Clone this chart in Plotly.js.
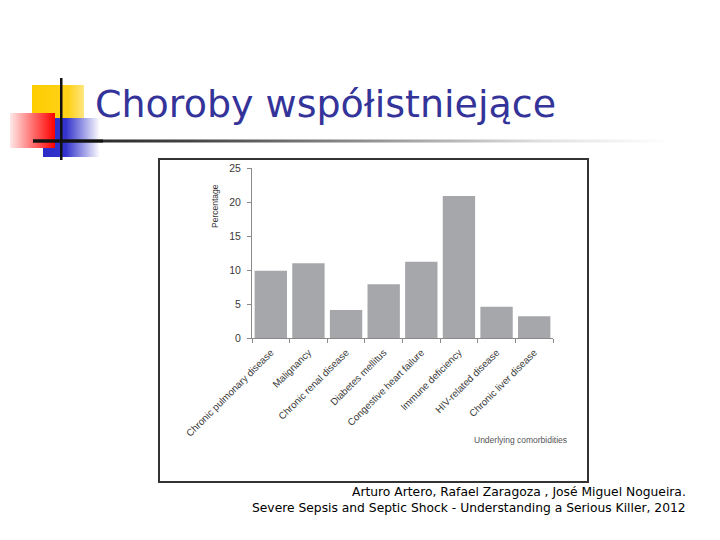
<!DOCTYPE html>
<html>
<head>
<meta charset="utf-8">
<script src="https://cdn.plot.ly/plotly-3.0.1.min.js"></script>
<style>html,body{margin:0;padding:0;background:#fff;}</style>
</head>
<body>
<div id="chart" style="width:720px;height:540px;"></div>
<script>
// ---- data ----
const categories = [
  "Chronic pulmonary disease",
  "Malignancy",
  "Chronic renal disease",
  "Diabetes mellitus",
  "Congestive heart failure",
  "Immune deficiency",
  "HIV-related disease",
  "Chronic liver disease"
];
const percentages = [9.9, 11.0, 4.1, 7.9, 11.2, 20.9, 4.6, 3.2];
const yTickValues = [0, 5, 10, 15, 20, 25];
const slideTitle = "Choroby współistniejące";
const yAxisLabel = "Percentage";
const xAxisLabel = "Underlying comorbidities";
const citationLines = [
  "Arturo Artero, Rafael Zaragoza , José Miguel Nogueira.",
  "Severe Sepsis and Septic Shock - Understanding a Serious Killer, 2012"
];

// ---- layout helpers (pixel -> paper) ----
const W = 720, H = 540;
const PL = 252, PR = 553, PT = 168, PB = 338;
const px = x => (x - PL) / (PR - PL);
const py = y => (PB - y) / (PB - PT);

// decoration svg (slide template logo + gradient rule)
const decoSvg =
  '<svg xmlns="http://www.w3.org/2000/svg" width="720" height="90" viewBox="0 0 720 90">' +
  '<defs>' +
  '<linearGradient id="gy" x1="0" x2="1" y1="0" y2="0"><stop offset="0" stop-color="#FFCC00"/><stop offset="0.7" stop-color="#FFD21A"/><stop offset="1" stop-color="#FFE680"/></linearGradient>' +
  '<linearGradient id="gr" x1="0" x2="1" y1="0" y2="0"><stop offset="0" stop-color="#FFE8E8"/><stop offset="0.5" stop-color="#FF7070"/><stop offset="1" stop-color="#FF0000"/></linearGradient>' +
  '<linearGradient id="gb" x1="0" x2="1" y1="0" y2="0"><stop offset="0" stop-color="#2B2BC8"/><stop offset="0.4" stop-color="#3333CC"/><stop offset="1" stop-color="#FFFFFF"/></linearGradient>' +
  '<linearGradient id="gl" x1="0" x2="1" y1="0" y2="0"><stop offset="0" stop-color="#1a1a1a"/><stop offset="0.25" stop-color="#444444"/><stop offset="0.5" stop-color="#8a8a8a"/><stop offset="0.8" stop-color="#e0e0e0"/><stop offset="1" stop-color="#ffffff"/></linearGradient>' +
  '</defs>' +
  '<rect x="32" y="10" width="52" height="37" fill="url(#gy)"/>' +
  '<rect x="43" y="43" width="57" height="39" fill="url(#gb)"/>' +
  '<rect x="10" y="38" width="45" height="35" fill="url(#gr)"/>' +
  '<rect x="33" y="64.5" width="637" height="3" fill="url(#gl)"/>' +
  '<rect x="33" y="64.5" width="70" height="3" fill="#111"/>' +
  '<rect x="60" y="3" width="2.5" height="82" fill="#111"/>' +
  '</svg>';
const decoUri = 'data:image/svg+xml;charset=utf-8,' + encodeURIComponent(decoSvg);

const trace = {
  type: 'bar',
  x: categories,
  y: percentages,
  marker: { color: '#A5A7AA', line: { width: 0 } },
  hoverinfo: 'x+y'
};

const layout = {
  width: W, height: H,
  margin: { l: PL, r: W - PR, t: PT, b: H - PB, pad: 0 },
  paper_bgcolor: '#ffffff',
  plot_bgcolor: '#ffffff',
  showlegend: false,
  bargap: 0.14,
  title: {
    text: slideTitle,
    xref: 'container', yref: 'container',
    x: 95 / W, xanchor: 'left',
    y: 1 - 104 / H, yanchor: 'middle',
    font: { family: 'DejaVu Sans, Verdana, sans-serif', size: 38, color: '#333399' }
  },
  xaxis: {
    type: 'category',
    tickangle: -45,
    tickson: 'boundaries',
    ticks: 'outside', ticklen: 4, tickcolor: '#8a8a8a', tickwidth: 1,
    showline: true, linecolor: '#8a8a8a', linewidth: 1,
    showgrid: false, zeroline: false,
    ticklabelstandoff: 4,
    tickfont: { family: 'Liberation Sans, Arial, sans-serif', size: 9.8, color: '#3a3a3a' }
  },
  yaxis: {
    range: [0, 25],
    tickvals: yTickValues,
    ticks: 'outside', ticklen: 4, tickcolor: '#8a8a8a', tickwidth: 1,
    showline: true, linecolor: '#8a8a8a', linewidth: 1,
    showgrid: false, zeroline: false,
    ticklabelstandoff: 4,
    tickfont: { family: 'Liberation Sans, Arial, sans-serif', size: 10.5, color: '#3a3a3a' }
  },
  shapes: [
    { type: 'rect', xref: 'paper', yref: 'paper',
      x0: px(159), x1: px(588), y0: py(482), y1: py(159),
      line: { color: '#333333', width: 2 }, fillcolor: 'rgba(0,0,0,0)', layer: 'above' }
  ],
  images: [
    { source: decoUri, xref: 'paper', yref: 'paper',
      x: px(0), y: py(75), sizex: 720 / (PR - PL), sizey: 90 / (PB - PT),
      xanchor: 'left', yanchor: 'top', sizing: 'stretch', layer: 'above' }
  ],
  annotations: [
    { text: yAxisLabel, xref: 'paper', yref: 'paper', x: px(215), y: py(206),
      textangle: -90, showarrow: false, xanchor: 'center', yanchor: 'middle',
      font: { family: 'Liberation Sans, Arial, sans-serif', size: 8.5, color: '#333333' } },
    { text: xAxisLabel, xref: 'paper', yref: 'paper', x: px(520), y: py(440),
      showarrow: false, xanchor: 'center', yanchor: 'middle',
      font: { family: 'Liberation Sans, Arial, sans-serif', size: 8.5, color: '#555555' } },
    { text: citationLines[0], xref: 'paper', yref: 'paper', x: px(688), y: py(492),
      showarrow: false, xanchor: 'right', yanchor: 'middle',
      font: { family: 'DejaVu Sans, Verdana, sans-serif', size: 12.3, color: '#000000' } },
    { text: citationLines[1], xref: 'paper', yref: 'paper', x: px(688), y: py(508),
      showarrow: false, xanchor: 'right', yanchor: 'middle',
      font: { family: 'DejaVu Sans, Verdana, sans-serif', size: 12.3, color: '#000000' } }
  ]
};

Plotly.newPlot('chart', [trace], layout, { displayModeBar: false, staticPlot: true });
</script>
</body>
</html>
